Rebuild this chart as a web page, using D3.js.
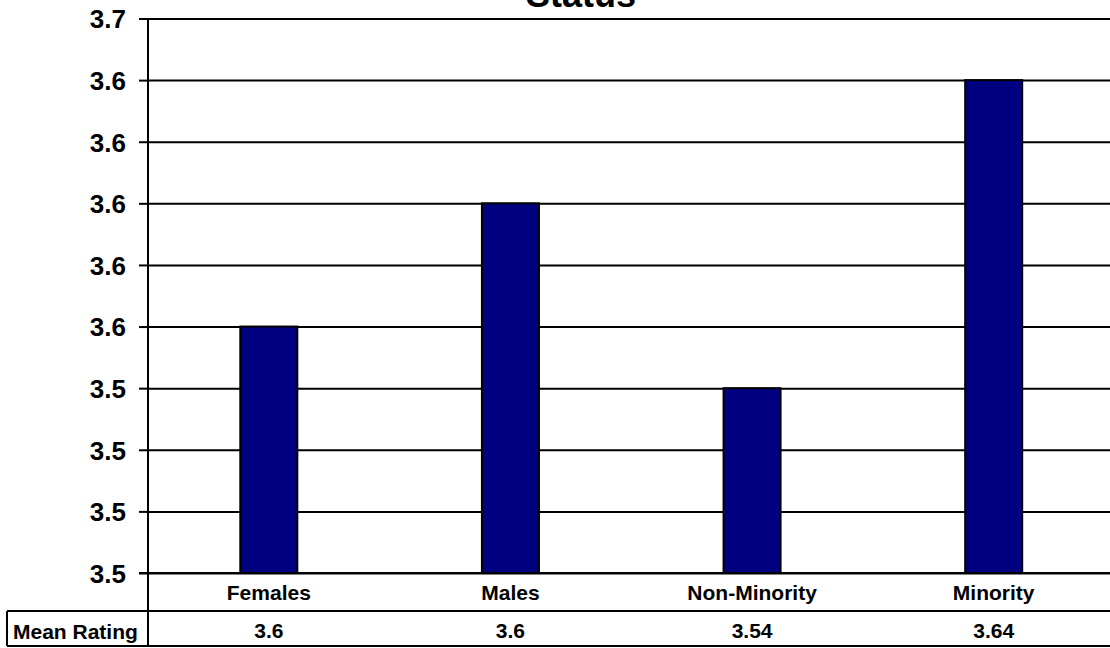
<!DOCTYPE html>
<html>
<head>
<meta charset="utf-8">
<script src="https://cdn.jsdelivr.net/npm/d3@7"></script>
<style>
  html, body { margin: 0; padding: 0; background: #fff; }
  svg { display: block; font-family: "Liberation Sans", Arial, sans-serif; font-weight: bold; }
</style>
</head>
<body>
<svg id="chart" width="1110" height="648"></svg>
<script>
// Mean rating by group
const categories = ["Females", "Males", "Non-Minority", "Minority"];
const meanRating = [3.56, 3.60, 3.54, 3.64];
// number format of each cell in the data table
const cellFormats = [".1f", ".1f", ".2f", ".2f"];
const yTicks = [3.48, 3.50, 3.52, 3.54, 3.56, 3.58, 3.60, 3.62, 3.64, 3.66];
const seriesName = "Mean Rating";
const title = "Status";

const svg = d3.select("#chart");
const W = 1110;
const plot = { left: 148, top: 18.5, bottom: 573, right: 1114.5 };
const tableRow = 611, tableBottom = 646, tableLeft = 7;

const x = d3.scaleBand()
  .domain(categories)
  .range([plot.left, plot.right])
  .paddingInner(0.764)
  .paddingOuter(0.382);

const y = d3.scaleLinear()
  .domain([yTicks[0], yTicks[yTicks.length - 1]])
  .range([plot.bottom, plot.top]);

// title
svg.append("text")
  .attr("x", 581).attr("y", 7)
  .attr("text-anchor", "middle")
  .attr("font-size", 36)
  .text(title);

// horizontal gridlines
const grid = svg.append("g")
  .attr("transform", `translate(${plot.left},0)`)
  .call(d3.axisLeft(y).tickValues(yTicks).tickSize(-(W - plot.left)).tickFormat(""));
grid.select(".domain").remove();
grid.selectAll("line").attr("stroke", "#000").attr("stroke-width", 2);

// y axis ticks and labels
const yAxis = svg.append("g")
  .attr("transform", `translate(${plot.left},0)`)
  .call(d3.axisLeft(y).tickValues(yTicks).tickSize(9).tickPadding(13).tickFormat(d3.format(".1f")));
yAxis.select(".domain").remove();
yAxis.selectAll("line").attr("stroke", "#000").attr("stroke-width", 2);
yAxis.selectAll("text")
  .attr("font-size", 26)
  .attr("font-family", "Liberation Sans, Arial, sans-serif")
  .attr("font-weight", "bold")
  .attr("fill", "#000")
  .attr("dy", "0.36em");

// bars
svg.append("g").selectAll("rect")
  .data(categories)
  .join("rect")
  .attr("x", d => x(d))
  .attr("width", x.bandwidth())
  .attr("y", (d, i) => y(meanRating[i]))
  .attr("height", (d, i) => plot.bottom - y(meanRating[i]))
  .attr("fill", "#000080")
  .attr("stroke", "#000")
  .attr("stroke-width", 2);

// category axis (labels sit in the first table row)
const xAxis = svg.append("g")
  .attr("transform", `translate(0,${plot.bottom})`)
  .call(d3.axisBottom(x).tickSize(0).tickPadding(0));
xAxis.select(".domain").remove();
xAxis.selectAll("text")
  .attr("font-size", 21)
  .attr("font-family", "Liberation Sans, Arial, sans-serif")
  .attr("font-weight", "bold")
  .attr("fill", "#000")
  .attr("dy", null)
  .attr("y", 600 - plot.bottom);

// x axis baseline
svg.append("line")
  .attr("x1", plot.left - 9).attr("x2", W)
  .attr("y1", plot.bottom).attr("y2", plot.bottom)
  .attr("stroke", "#000").attr("stroke-width", 2);

// data table lines
const lines = svg.append("g").attr("stroke", "#000").attr("stroke-width", 2);
lines.append("line").attr("x1", tableLeft).attr("x2", W).attr("y1", tableRow).attr("y2", tableRow);
lines.append("line").attr("x1", tableLeft).attr("x2", W).attr("y1", tableBottom).attr("y2", tableBottom);
lines.append("line").attr("x1", tableLeft).attr("x2", tableLeft).attr("y1", tableRow).attr("y2", tableBottom);
lines.append("line").attr("x1", plot.left).attr("x2", plot.left).attr("y1", plot.top).attr("y2", tableBottom);

// table: series name and values
svg.append("text")
  .attr("x", 13).attr("y", 639)
  .attr("font-size", 21)
  .text(seriesName);

svg.append("g").selectAll("text")
  .data(categories)
  .join("text")
  .attr("x", d => x(d) + x.bandwidth() / 2)
  .attr("y", 638)
  .attr("text-anchor", "middle")
  .attr("font-size", 21)
  .text((d, i) => d3.format(cellFormats[i])(meanRating[i]));
</script>
</body>
</html>
